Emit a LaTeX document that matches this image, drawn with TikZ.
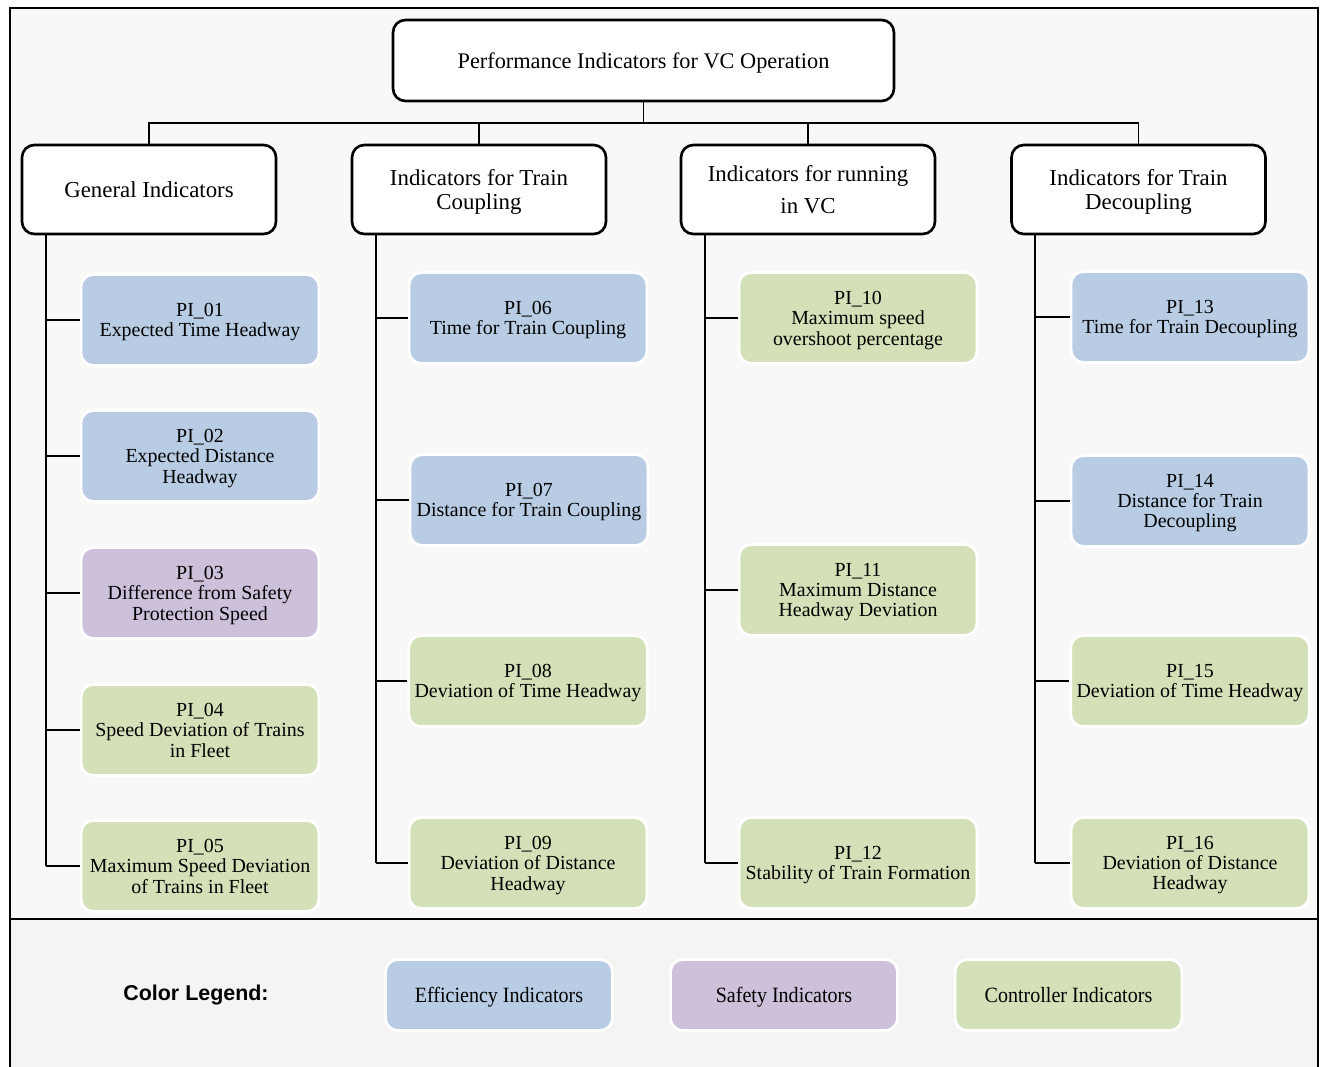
\documentclass[tikz,border=0pt]{standalone}
\usepackage{fontspec}
\setmainfont{Liberation Serif}
\newfontfamily\legfont[FakeStretch=0.92]{Liberation Serif}
\newfontfamily\headfont{Liberation Sans}
\usetikzlibrary{positioning,calc}

\definecolor{effblue}{HTML}{B8CCE4}
\definecolor{safepurple}{HTML}{CCC0DA}
\definecolor{ctrlgreen}{HTML}{D4E1B8}
\definecolor{toppanel}{HTML}{F8F8F8}
\definecolor{botpanel}{HTML}{F4F4F4}

\begin{document}
\begin{tikzpicture}[x=0.02cm,y=-0.02cm,
    hdr/.style={draw=black,line width=1.5pt,fill=white,rounded corners=7pt,
        minimum width=5.08cm,minimum height=1.78cm,align=center,text depth=0pt,
        font=\fontsize{13}{13.5}\selectfont},
    leaf/.style={draw=white,line width=1.6pt,rounded corners=7pt,
        minimum width=4.76cm,minimum height=1.82cm,align=center,text depth=0pt,
        font=\fontsize{11.35}{11.6}\selectfont},
    legbox/.style={leaf,minimum width=4.54cm,minimum height=1.42cm,
        font=\legfont\fontsize{12.4}{12.4}\selectfont},
    conn/.style={line width=1.1pt}]
    \useasboundingbox (0,0) rectangle (1323,1066);

    % panels and frame
    \fill[toppanel] (10,8) rectangle (1318,919);
    \fill[botpanel] (10,919) rectangle (1318,1070);
    \draw[line width=1.6pt] (10,1070) -- (10,8) -- (1318,8) -- (1318,1070);
    \draw[line width=1.6pt] (10,919) -- (1318,919);

    % root and categories
    \node[hdr,minimum width=10.02cm,minimum height=1.62cm,font=\fontsize{12.7}{13}\selectfont]
        (root) at (643.5,60.5) {Performance Indicators for VC Operation};
    \node[hdr] (gen) at (149,189.5) {General Indicators};
    \node[hdr] (cpl) at (479,189.5) {Indicators for Train\\Coupling};
    \node[hdr] (run) at (808,189.5) {Indicators for running\\[5pt]in VC};
    \node[hdr] (dec) at (1138.5,189.5) {Indicators for Train\\Decoupling};

    \coordinate (bus) at (0,123);
    \draw[conn] (root.south) -- (root.south |- bus);
    \draw[conn] (gen.north) -- (gen.north |- bus) -- (dec.north |- bus) -- (dec.north);
    \draw[conn] (cpl.north) -- (cpl.north |- bus);
    \draw[conn] (run.north) -- (run.north |- bus);

    % indicators
    \foreach \n/\x/\y/\c/\t in {
        pi01/200/320/effblue/{PI\_01\\Expected Time Headway},
        pi02/200/456/effblue/{PI\_02\\Expected Distance\\Headway},
        pi03/200/593/safepurple/{PI\_03\\Difference from Safety\\Protection Speed},
        pi04/200/730/ctrlgreen/{PI\_04\\Speed Deviation of Trains\\in Fleet},
        pi05/200/866/ctrlgreen/{PI\_05\\Maximum Speed Deviation\\of Trains in Fleet},
        pi06/528/318/effblue/{PI\_06\\Time for Train Coupling},
        pi07/529/500/effblue/{PI\_07\\Distance for Train Coupling},
        pi08/528/681/ctrlgreen/{PI\_08\\Deviation of Time Headway},
        pi09/528/863/ctrlgreen/{PI\_09\\Deviation of Distance\\Headway},
        pi10/858/318/ctrlgreen/{PI\_10\\Maximum speed\\overshoot percentage},
        pi11/858/590/ctrlgreen/{PI\_11\\Maximum Distance\\Headway Deviation},
        pi12/858/863/ctrlgreen/{PI\_12\\Stability of Train Formation},
        pi13/1190/317/effblue/{PI\_13\\Time for Train Decoupling},
        pi14/1190/501/effblue/{PI\_14\\Distance for Train\\Decoupling},
        pi15/1190/681/ctrlgreen/{PI\_15\\Deviation of Time Headway},
        pi16/1190/863/ctrlgreen/{PI\_16\\Deviation of Distance\\Headway}}
        \node[leaf,fill=\c] (\n) at (\x,\y) {\t};

    % branches
    \foreach \h/\last/\list in {gen/pi05/{pi01,pi02,pi03,pi04,pi05},
        cpl/pi09/{pi06,pi07,pi08,pi09},
        run/pi12/{pi10,pi11,pi12},
        dec/pi16/{pi13,pi14,pi15,pi16}} {
        \coordinate (t) at ([xshift=0.5cm]\h.south west);
        \draw[conn] (t) -- (t |- \last.west);
        \foreach \n in \list
            \draw[conn] (\n.west) -- (\n.west -| t);
    }

    % legend
    \node[font=\headfont\bfseries\fontsize{12.2}{12.5}\selectfont] (leg) at (196,995) {Color Legend:};
    \node[legbox,fill=effblue] (leff) at (499,995) {Efficiency Indicators};
    \node[legbox,fill=safepurple] (lsaf) at (784,995) {Safety Indicators};
    \node[legbox,fill=ctrlgreen] (lctl) at (1068.5,995) {Controller Indicators};
\end{tikzpicture}
\end{document}
